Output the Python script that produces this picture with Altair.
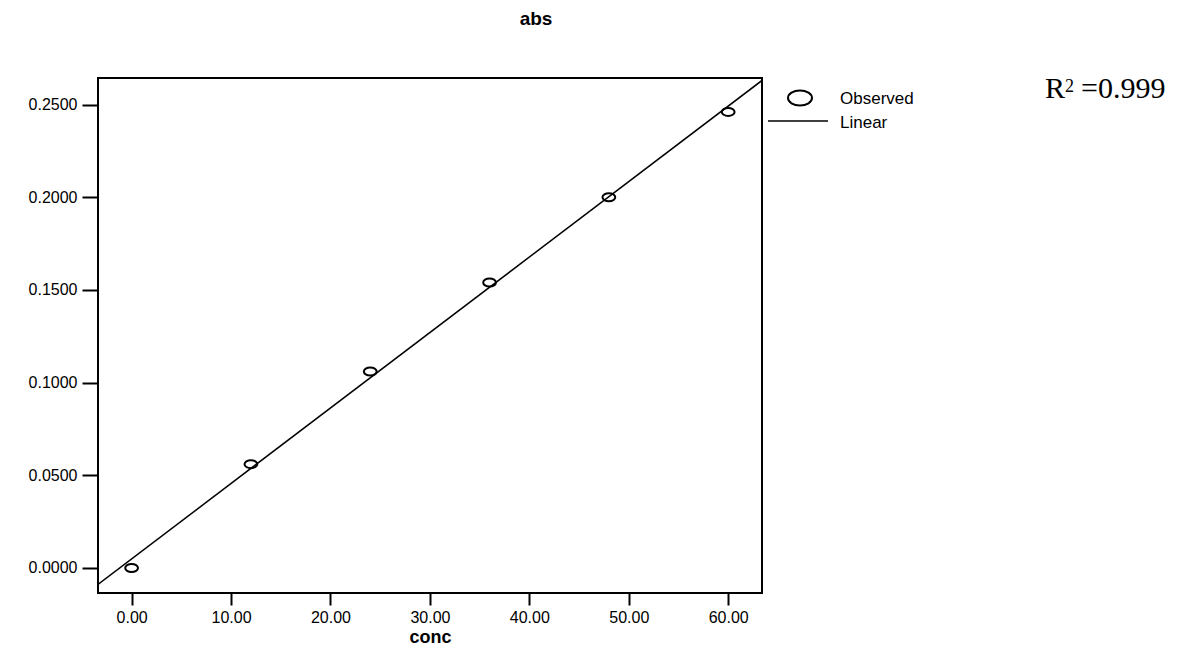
import altair as alt
import pandas as pd

conc = [0, 12, 24, 36, 48, 60]
absorbance = [0.000, 0.056, 0.106, 0.154, 0.200, 0.246]
x_ticks = [0, 10, 20, 30, 40, 50, 60]
y_ticks = [0.0, 0.05, 0.10, 0.15, 0.20, 0.25]
legend_labels = ["Observed", "Linear"]
r2_text = ["R", "2", "=0.999"]

df = pd.DataFrame({"conc": conc, "abs": absorbance})

# ellipse-shaped symbol (the reference circles are stretched horizontally)
ELLIPSE = ("M 1.6,0 C 1.6,0.5523 0.8837,1 0,1 C -0.8837,1 -1.6,0.5523 -1.6,0 "
           "C -1.6,-0.5523 -0.8837,-1 0,-1 C 0.8837,-1 1.6,-0.5523 1.6,0 Z")

xdom = [-3.38, 63.4]
ydom = [-0.0135, 0.2643]

x = alt.X("conc:Q", scale=alt.Scale(domain=xdom, nice=False, zero=False),
          axis=alt.Axis(values=x_ticks, format=".2f", title="conc", tickSize=12,
                        labelPadding=4, titlePadding=3, titleFontSize=18,
                        titleFontWeight="bold", titleFont="Liberation Sans",
                        titleColor="black", grid=False, domain=False))
y = alt.Y("abs:Q", scale=alt.Scale(domain=ydom, nice=False, zero=False),
          axis=alt.Axis(values=y_ticks, format=".4f", title=None, tickSize=16,
                        labelPadding=5, grid=False, domain=False))

base = alt.Chart(df)

points = base.mark_point(shape=ELLIPSE, size=64, stroke="black", strokeWidth=2,
                         filled=False, opacity=1).encode(x=x, y=y)

fit = base.transform_regression("conc", "abs", method="linear", extent=xdom).mark_line(
    color="black", strokeWidth=1.5, clip=True).encode(x=x, y=y)

leg_obs = pd.DataFrame({"label": [legend_labels[0]]})
leg_lin = pd.DataFrame({"label": [legend_labels[1]]})

leg_sym = alt.Chart(leg_obs).mark_point(shape=ELLIPSE, size=225, stroke="black",
                                        strokeWidth=2, filled=False, opacity=1).encode(
    x=alt.value(702), y=alt.value(20))
leg_line = alt.Chart(leg_lin).mark_rule(color="black", strokeWidth=1.5).encode(
    x=alt.value(670), x2=alt.value(730), y=alt.value(43))
leg_t1 = alt.Chart(leg_obs).mark_text(align="left", baseline="alphabetic", fontSize=17,
                                      font="Liberation Sans", color="black").encode(
    x=alt.value(742), y=alt.value(26), text="label:N")
leg_t2 = alt.Chart(leg_lin).mark_text(align="left", baseline="alphabetic", fontSize=17,
                                      font="Liberation Sans", color="black").encode(
    x=alt.value(742), y=alt.value(50), text="label:N")

r_df = pd.DataFrame({"t": [r2_text[0]]})
s_df = pd.DataFrame({"t": [r2_text[1]]})
v_df = pd.DataFrame({"t": [r2_text[2]]})
r_t = alt.Chart(r_df).mark_text(align="left", baseline="alphabetic", fontSize=30,
                                font="Liberation Serif", color="black").encode(
    x=alt.value(947), y=alt.value(20), text="t:N")
s_t = alt.Chart(s_df).mark_text(align="left", baseline="alphabetic", fontSize=18,
                                font="Liberation Serif", color="black").encode(
    x=alt.value(967), y=alt.value(14), text="t:N")
v_t = alt.Chart(v_df).mark_text(align="left", baseline="alphabetic", fontSize=30,
                                font="Liberation Serif", color="black").encode(
    x=alt.value(983), y=alt.value(20), text="t:N")

chart = alt.layer(fit, points, leg_sym, leg_line, leg_t1, leg_t2, r_t, s_t, v_t).properties(
    width=664, height=515,
    title=alt.Title("abs", fontSize=19, fontWeight="bold", font="Liberation Sans",
                    anchor="middle", dx=106, offset=30, baseline="alphabetic",
                    color="black"),
    autosize=alt.AutoSizeParams(type="none"),
    padding={"left": 90, "top": 70, "right": 408, "bottom": 54},
    background="white",
).configure_view(stroke="black", strokeWidth=2).configure_axis(
    domain=False, grid=False, tickColor="black", tickWidth=2,
    labelColor="black", labelFont="Liberation Sans", labelFontSize=16,
)

chart.save("out.html", embed_options={"renderer": "svg", "actions": False})
